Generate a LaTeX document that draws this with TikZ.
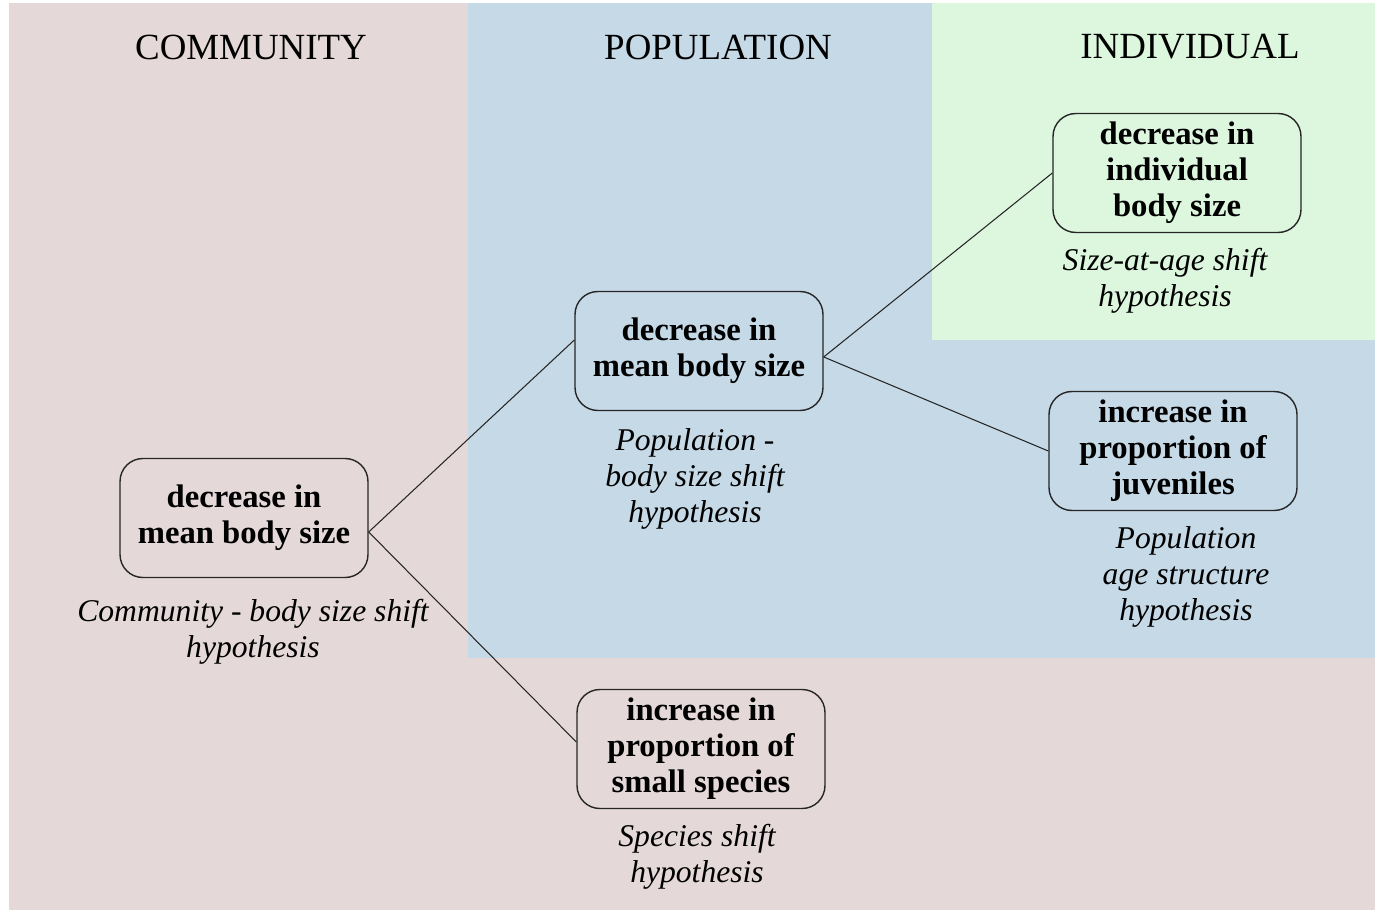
\documentclass[tikz,border=0pt]{standalone}
\usepackage{fontspec}
\setmainfont{Liberation Serif}
\usetikzlibrary{positioning}
\definecolor{commbg}{HTML}{E5D8D9}
\definecolor{popbg}{HTML}{C6D9E7}
\definecolor{indbg}{HTML}{DDF7DF}
\begin{document}
\begin{tikzpicture}[x=0.02cm, y=-0.02cm,
  effect/.style={draw=black!85, line width=0.8pt, rounded corners=13pt, align=center,
    minimum width=4.96cm, minimum height=2.38cm, inner sep=0pt,
    font=\bfseries\fontsize{18.6}{20.5}\selectfont},
  hyp/.style={align=center, font=\itshape\fontsize{18}{20.5}\selectfont},
  level/.style={font=\fontsize{21}{26}\selectfont},
  link/.style={draw=black!85, line width=0.6pt}]
\useasboundingbox (0,0) rectangle (1375,912);
% Backgrounds for the three levels
\fill[white] (0,0) rectangle (1375,912);
\fill[commbg] (9,3) rectangle (1375,910);
\fill[popbg] (468,3) rectangle (1375,658);
\fill[indbg] (932,3) rectangle (1375,340);

% Level titles
\node[level] (tcomm) at (251,47) {COMMUNITY};
\node[level] (tpop) at (718,47) {POPULATION};
\node[level] (tind) at (1190,47) {INDIVIDUAL};

% Effects
\node[effect] (comm) at (244,518) {decrease in\\mean body size};
\node[effect] (popmean) at (699,351) {decrease in\\mean body size};
\node[effect] (indiv) at (1177,173) {decrease in\\individual\\body size};
\node[effect] (juven) at (1173,451) {increase in\\proportion of\\juveniles};
\node[effect] (species) at (701,749) {increase in\\proportion of\\small species};

% Hypotheses
\node[hyp] (hcomm) at (253,632) {Community - body size shift\\hypothesis};
\node[hyp] (hpop) at (695,479) {Population -\\body size shift\\hypothesis};
\node[hyp] (hind) at (1165,281) {Size-at-age shift\\hypothesis};
\node[hyp] (hjuven) at (1186,577) {Population\\age structure\\hypothesis};
\node[hyp] (hspecies) at (697,857) {Species shift\\hypothesis};

% Links
\draw[link] ([yshift=-0.28cm]comm.east) -- ([yshift=0.22cm]popmean.west);
\draw[link] ([yshift=-0.28cm]comm.east) -- ([yshift=0.14cm]species.west);
\draw[link] ([yshift=-0.12cm]popmean.east) -- (indiv.west);
\draw[link] ([yshift=-0.12cm]popmean.east) -- (juven.west);
\end{tikzpicture}
\end{document}
